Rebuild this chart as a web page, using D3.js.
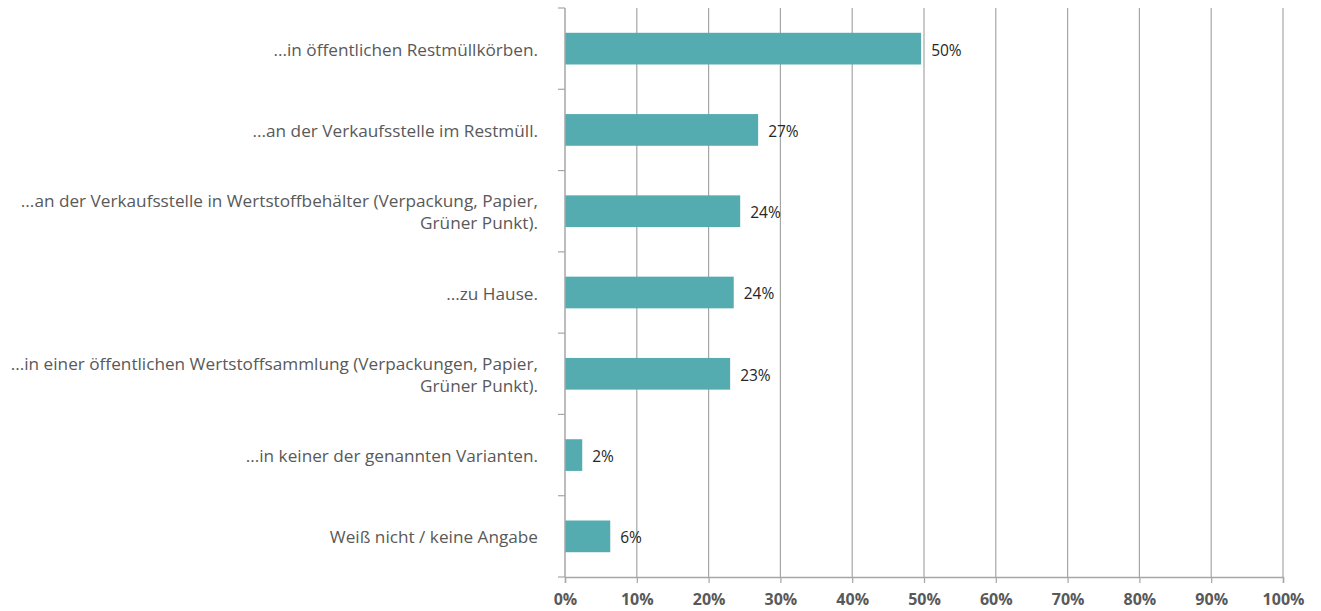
<!DOCTYPE html>
<html>
<head>
<meta charset="utf-8">
<script src="https://cdn.jsdelivr.net/npm/d3@7"></script>
<style>
  body { margin: 0; background: #fff; }
  svg { display: block; }
</style>
</head>
<body>
<svg id="chart" width="1321" height="611"></svg>
<script>
// categories (multi-line labels split by "\n")
const categories = [
  "...in öffentlichen Restmüllkörben.",
  "...an der Verkaufsstelle im Restmüll.",
  "...an der Verkaufsstelle in Wertstoffbehälter (Verpackung, Papier,\nGrüner Punkt).",
  "...zu Hause.",
  "...in einer öffentlichen Wertstoffsammlung (Verpackungen, Papier,\nGrüner Punkt).",
  "...in keiner der genannten Varianten.",
  "Weiß nicht / keine Angabe"
];
const values = [49.6, 26.9, 24.4, 23.5, 23.0, 2.4, 6.3];
const valueLabels = ["50%", "27%", "24%", "24%", "23%", "2%", "6%"];
const xTicks = [0, 10, 20, 30, 40, 50, 60, 70, 80, 90, 100];

const svg = d3.select("#chart");
const margin = { left: 565, right: 38, top: 8, bottom: 34 };
const width = 1321, height = 611;
const font = "'Open Sans', sans-serif";

const x = d3.scaleLinear().domain([0, 100]).range([margin.left, width - margin.right]);
const y = d3.scaleBand().domain(categories).range([margin.top, height - margin.bottom]).paddingInner(0.61).paddingOuter(0.305);

// gridlines
svg.append("g")
  .selectAll("line")
  .data(xTicks.slice(1))
  .enter()
  .append("line")
  .attr("x1", d => x(d)).attr("x2", d => x(d))
  .attr("y1", margin.top).attr("y2", height - margin.bottom)
  .attr("stroke", "#a6a6a6")
  .attr("stroke-width", 1.2);

// bars
svg.append("g")
  .selectAll("rect")
  .data(values)
  .enter()
  .append("rect")
  .attr("x", x(0))
  .attr("y", (d, i) => y(categories[i]))
  .attr("width", d => x(d) - x(0))
  .attr("height", y.bandwidth())
  .attr("fill", "#54acb0");

// value labels
svg.append("g")
  .selectAll("text")
  .data(values)
  .enter()
  .append("text")
  .attr("x", d => x(d) + 10)
  .attr("y", (d, i) => y(categories[i]) + y.bandwidth() / 2 + 1.5)
  .attr("dy", "0.35em")
  .attr("font-family", font)
  .attr("font-size", 15.5)
  .attr("fill", "#262626")
  .text((d, i) => valueLabels[i]);

// y axis line + ticks between categories
const yEdges = d3.range(categories.length + 1).map(i => margin.top + i * y.step());
svg.append("line")
  .attr("x1", x(0)).attr("x2", x(0))
  .attr("y1", margin.top).attr("y2", height - margin.bottom)
  .attr("stroke", "#a6a6a6").attr("stroke-width", 1.5);
svg.append("g")
  .selectAll("line")
  .data(yEdges)
  .enter()
  .append("line")
  .attr("x1", x(0) - 7).attr("x2", x(0))
  .attr("y1", d => d).attr("y2", d => d)
  .attr("stroke", "#a6a6a6").attr("stroke-width", 1.2);

// x axis
const xAxis = d3.axisBottom(x)
  .tickValues(xTicks)
  .tickFormat(d => d + "%")
  .tickSize(6)
  .tickPadding(11);
const gx = svg.append("g")
  .attr("transform", `translate(0,${height - margin.bottom})`)
  .call(xAxis);
gx.select(".domain").attr("stroke", "#a6a6a6").attr("stroke-width", 1.5);
gx.selectAll(".tick line").attr("stroke", "#a6a6a6").attr("stroke-width", 1.2);
gx.selectAll(".tick text")
  .attr("font-family", font)
  .attr("font-size", 16)
  .attr("font-weight", "bold")
  .attr("fill", "#595959");

// category labels
const labels = svg.append("g")
  .selectAll("text")
  .data(categories)
  .enter()
  .append("text")
  .attr("text-anchor", "end")
  .attr("font-family", font)
  .attr("font-size", 17.2)
  .attr("fill", "#595959")
  .attr("transform", d => {
    const n = d.split("\n").length;
    return `translate(538,${y(d) + y.bandwidth() / 2 + 1 - (n - 1) * 11})`;
  });
labels.selectAll("tspan")
  .data(d => d.split("\n"))
  .enter()
  .append("tspan")
  .attr("x", 0)
  .attr("dy", (d, i) => i === 0 ? "0.35em" : 22)
  .text(d => d);
</script>
</body>
</html>
